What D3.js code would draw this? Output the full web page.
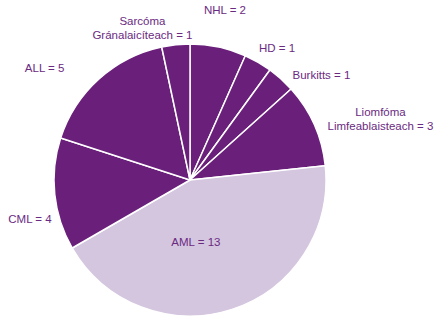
<!DOCTYPE html>
<html>
<head>
<meta charset="utf-8">
<script src="https://cdn.jsdelivr.net/npm/d3@7"></script>
<style>
  body { margin: 0; background: #fff; }
  text { font-family: "Liberation Sans", Arial, Helvetica, sans-serif; }
</style>
</head>
<body>
<div id="chart"></div>
<script>
var w = 437;
var h = 317;

// data, clockwise from 12 o'clock
var categories = ["NHL", "HD", "Burkitts", "Liomfóma Limfeablaisteach", "AML", "CML", "ALL", "Sarcóma Gránalaicíteach"];
var labelLines = [["NHL = 2"], ["HD = 1"], ["Burkitts = 1"], ["Liomfóma", "Limfeablaisteach = 3"], ["AML = 13"], ["CML = 4"], ["ALL = 5"], ["Sarcóma", "Gránalaicíteach = 1"]];
var values = [2, 1, 1, 3, 13, 4, 5, 1];

var dark = "#6a1f7b";
var light = "#d4c6df";
var textColor = "#6b2a82";

var cx = 190, cy = 180, radius = 136;

// label nudges from the outer label arc (layout only)
var nudge = [[0, -2], [3, 17], [19, 24], [37, 4], [-46, -94], [7, 25], [-33, 17], [-30, 12]];

var svg = d3
  .select("#chart")
  .append("svg")
  .attr("width", w)
  .attr("height", h);

var g = svg.append("g").attr("transform", "translate(" + cx + "," + cy + ")");

var pie = d3.pie().sort(null).value(function (d) { return d; });
var arcs = pie(values);

var arc = d3.arc().innerRadius(0).outerRadius(radius);
var labelArc = d3.arc().innerRadius(168).outerRadius(168);

// Slices
g.selectAll("path")
  .data(arcs)
  .enter()
  .append("path")
  .attr("d", arc)
  .attr("fill", function (d, i) {
    return categories[i] === "AML" ? light : dark;
  })
  .attr("stroke", "#fff")
  .attr("stroke-width", 1.5)
  .attr("stroke-linejoin", "round");

// Labels
var labels = g.selectAll("text.lbl")
  .data(arcs)
  .enter()
  .append("text")
  .attr("class", "lbl")
  .attr("text-anchor", "middle")
  .attr("font-size", "11.5px")
  .attr("fill", textColor)
  .attr("transform", function (d, i) {
    var c = labelArc.centroid(d);
    return "translate(" + (c[0] + nudge[i][0]) + "," + (c[1] + nudge[i][1]) + ")";
  });

labels.each(function (d, i) {
  var t = d3.select(this);
  labelLines[i].forEach(function (line, j) {
    t.append("tspan")
      .attr("x", 0)
      .attr("dy", j === 0 ? 0 : 14)
      .text(line);
  });
});
</script>
</body>
</html>
